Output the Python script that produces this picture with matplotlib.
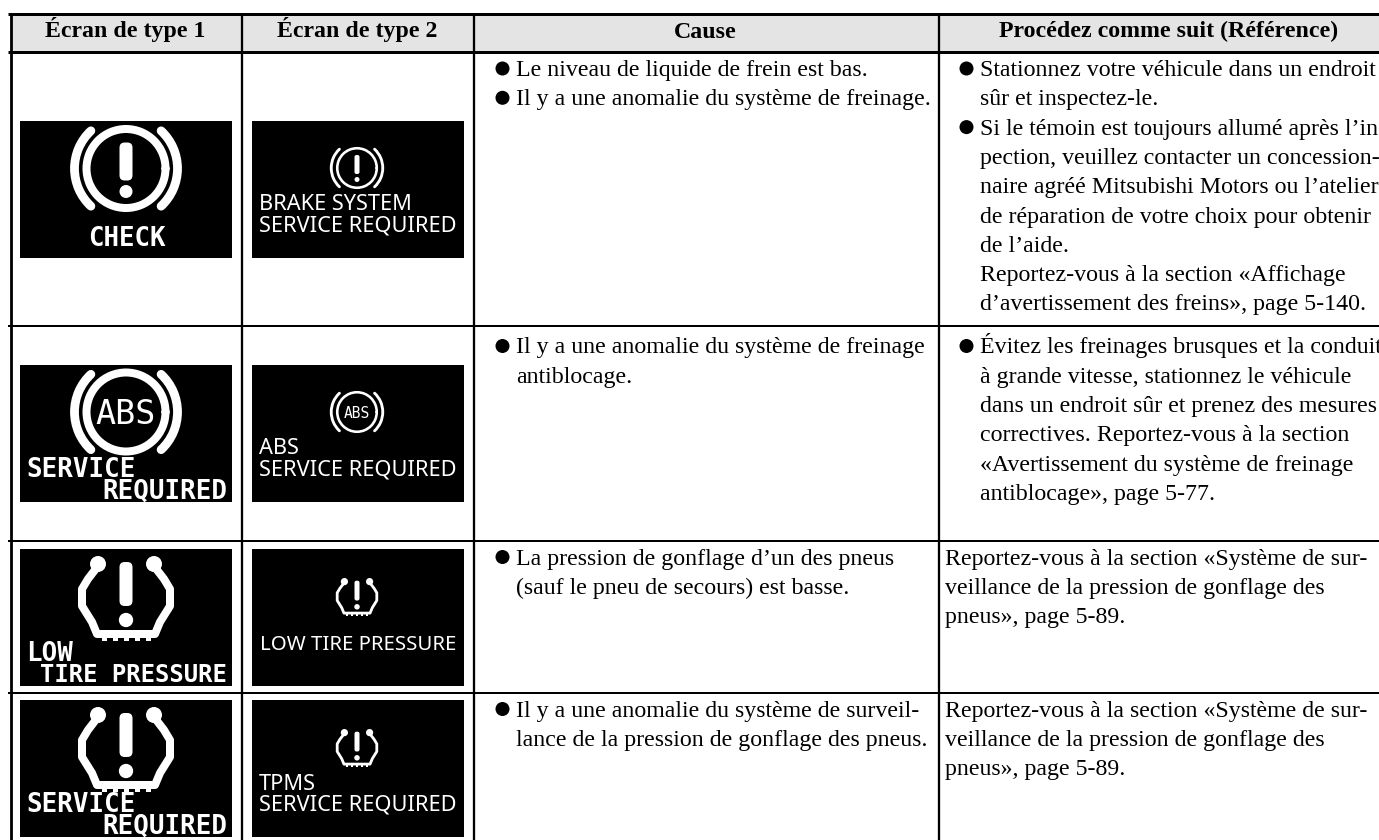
import matplotlib
matplotlib.use("Agg")
import matplotlib.pyplot as plt
from matplotlib.patches import Rectangle, Arc, Circle, FancyBboxPatch, PathPatch
from matplotlib.path import Path

headers = ["Écran de type 1", "Écran de type 2", "Cause", "Procédez comme suit (Référence)"]
col_lines = [10.5, 242, 474, 938.5]
row_lines = [13.5, 52, 325.7, 540.7, 692.7]
screen_tops = [121, 365, 549, 700]

type1_labels = [["CHECK"], ["SERVICE", "REQUIRED"], ["LOW", "TIRE PRESSURE"], ["SERVICE", "REQUIRED"]]
type2_labels = [["BRAKE SYSTEM", "SERVICE REQUIRED"], ["ABS", "SERVICE REQUIRED"],
                ["LOW TIRE PRESSURE"], ["TPMS", "SERVICE REQUIRED"]]
icons = ["brake", "abs", "tire", "tire"]

cause_text = [
    [(True, "Le niveau de liquide de frein est bas."), (True, "Il y a une anomalie du système de freinage.")],
    [(True, "Il y a une anomalie du système de freinage"), (False, "antiblocage.")],
    [(True, "La pression de gonflage d’un des pneus"), (False, "(sauf le pneu de secours) est basse.")],
    [(True, "Il y a une anomalie du système de surveil-"), (False, "lance de la pression de gonflage des pneus.")],
]
action_text = [
    [(True, "Stationnez votre véhicule dans un endroit"), (False, "sûr et inspectez-le."),
     (True, "Si le témoin est toujours allumé après l’ins"), (False, "pection, veuillez contacter un concession-"),
     (False, "naire agréé Mitsubishi Motors ou l’atelier"), (False, "de réparation de votre choix pour obtenir"),
     (False, "de l’aide."), (False, "Reportez-vous à la section «Affichage"),
     (False, "d’avertissement des freins», page 5-140.")],
    [(True, "Évitez les freinages brusques et la conduite"), (False, "à grande vitesse, stationnez le véhicule"),
     (False, "dans un endroit sûr et prenez des mesures"), (False, "correctives. Reportez-vous à la section"),
     (False, "«Avertissement du système de freinage"), (False, "antiblocage», page 5-77.")],
    [(None, "Reportez-vous à la section «Système de sur-"), (None, "veillance de la pression de gonflage des"),
     (None, "pneus», page 5-89.")],
    [(None, "Reportez-vous à la section «Système de sur-"), (None, "veillance de la pression de gonflage des"),
     (None, "pneus», page 5-89.")],
]
first_baselines = [76, 353.5, 564.5, 716.5]

W, H = 1379, 840
fig = plt.figure(figsize=(W / 100, H / 100), dpi=100)
ax = fig.add_axes([0, 0, 1, 1])
ax.set_xlim(0, W)
ax.set_ylim(H, 0)
ax.axis("off")
px = 72 / 100
SERIF = "Liberation Serif"
FS = 17.2
LH = 29.3

ax.add_patch(Rectangle((col_lines[0], row_lines[0]), W - col_lines[0], row_lines[1] - row_lines[0],
                       fc="#e4e4e4", ec="none", zorder=0))
for x, w in zip(col_lines, [2.8, 2.3, 2.3, 2.3]):
    ax.plot([x, x], [row_lines[0], H], color="k", lw=w * px, solid_capstyle="butt")
for y, w in zip(row_lines, [3.0, 3.0, 2.0, 2.0, 2.0]):
    ax.plot([8, W], [y, y], color="k", lw=w * px, solid_capstyle="butt")

centers = [125, 357, 705, 1169]
for c, t in zip(centers, headers):
    ax.text(c, 37.5, t, family=SERIF, fontsize=FS, weight="bold", ha="center", va="baseline")


def draw_lines(lines, x_bullet, x_text, x_plain, y0):
    for i, (bul, t) in enumerate(lines):
        y = y0 + i * LH
        if bul:
            ax.add_patch(Circle((x_bullet, y - 7.5), 7, fc="k", ec="none"))
        x = x_plain if bul is None else x_text
        ax.text(x, y, t, family=SERIF, fontsize=FS, ha="left", va="baseline", clip_on=True)


for i in range(4):
    draw_lines(cause_text[i], 502.5, 516, 516, first_baselines[i])
    draw_lines(action_text[i], 966.5, 980, 945, first_baselines[i])


def arc(cx, cy, r, t1, t2, lw):
    ax.add_patch(Arc((cx, cy), 2 * r, 2 * r, theta1=t1, theta2=t2, color="w", lw=lw * px, capstyle="round"))


def bar(cx, y0, y1, w):
    ax.add_patch(FancyBboxPatch((cx - w / 2, y0), w, y1 - y0,
                                boxstyle=f"round,pad=0,rounding_size={w * 0.4}", fc="w", ec="none"))


def icon_brake(cx, cy, s, stroke, bar_w, label=None, label_size=24, label_dy=0):
    arc(cx, cy, 39.5 * s, 0, 360, stroke)
    arc(cx, cy, 51.5 * s, 133, 227, stroke * 1.1)
    arc(cx, cy, 51.5 * s, -47, 47, stroke * 1.1)
    if label:
        ax.text(cx, cy + label_dy, label, color="w", family="DejaVu Sans Mono", fontsize=label_size,
                ha="center", va="center_baseline")
    else:
        bar(cx, cy - 26 * s, cy + 12 * s, bar_w)
        ax.add_patch(Circle((cx, cy + 23 * s), bar_w * 0.5, fc="w", ec="none"))


def icon_tire(cx, cy, s, stroke, bar_w):
    pts = [(-28, -30), (-38, -17), (-44, -7), (-44, 10), (-34, 26), (-29, 38),
           (29, 38), (34, 26), (44, 10), (44, -7), (38, -17), (28, -30)]
    v = [(cx + a * s, cy + b * s) for a, b in pts]
    ax.add_patch(PathPatch(Path(v), fc="none", ec="w", lw=stroke * px, capstyle="round", joinstyle="round"))
    for dx in (-28, 28):
        ax.add_patch(Circle((cx + dx * s, cy - 32 * s), 8 * s, fc="w", ec="none"))
    bar(cx, cy - 34 * s, cy + 10 * s, bar_w)
    ax.add_patch(Circle((cx, cy + 24 * s), bar_w * 0.55, fc="w", ec="none"))
    for dx in (-22, -11, 0, 11, 22):
        ax.add_patch(Rectangle((cx + (dx - 2.5) * s, cy + 38 * s), 5 * s, 7 * s, fc="w", ec="none"))


SW, SH = 212, 137
MONO = dict(color="w", family="DejaVu Sans Mono", weight="bold", va="baseline")
T2 = dict(color="w", family="Noto Sans", va="baseline", ha="left")
for i, top in enumerate(screen_tops):
    for x0 in (20, 252):
        ax.add_patch(Rectangle((x0, top), SW, SH, fc="k", ec="none"))

    cx = 126
    lab1 = type1_labels[i]
    if icons[i] == "brake":
        icon_brake(cx, top + 47.5, 1.0, 8, 13)
        ax.text(127, top + 125, lab1[0], ha="center", fontsize=18.5, **MONO)
    elif icons[i] == "abs":
        icon_brake(cx, top + 47, 1.0, 8, 13, "ABS", 24, -1.5)
    else:
        icon_tire(cx, top + 47, 1.0, 8, 13)
    if len(lab1) == 2:
        second_size = 17.2 if lab1[0] == "LOW" else 18.6
        ax.text(26, top + 112, lab1[0], ha="left", fontsize=18.6, **MONO)
        ax.text(227, top + 133.5, lab1[1], ha="right", fontsize=second_size, **MONO)

    cx2 = 357
    lab2 = type2_labels[i]
    if icons[i] == "brake":
        icon_brake(cx2, top + 47, 0.5, 2.6, 5)
    elif icons[i] == "abs":
        icon_brake(cx2, top + 47, 0.5, 2.6, 5, "ABS", 10.5)
    else:
        icon_tire(cx2, top + 47, 0.45, 2.8, 5)
    if len(lab2) == 2:
        ax.text(259, top + 89.5, lab2[0], fontsize=15.7, **T2)
        ax.text(259, top + 110.5, lab2[1], fontsize=15.7, **T2)
    else:
        ax.text(260, top + 101, lab2[0], fontsize=14.7, **T2)

fig.savefig("out.png", dpi=100)
